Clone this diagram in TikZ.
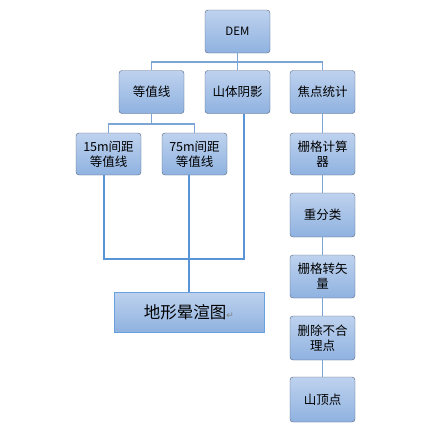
\documentclass[tikz,border=0pt]{standalone}
\usepackage{fontspec}
\setmainfont{Noto Sans CJK SC}
\newfontfamily\symfont{DejaVu Sans}
\usepackage{tikz}
\usetikzlibrary{positioning, calc}
\definecolor{boxtop}{RGB}{190, 210, 238}
\definecolor{boxbot}{RGB}{143, 178, 224}
\definecolor{boxedge}{RGB}{82, 98, 125}
\definecolor{thinblue}{RGB}{125, 165, 212}
\definecolor{thickblue}{RGB}{88, 148, 214}
\definecolor{hilledge}{RGB}{105, 160, 222}

\tikzset{
  stepbox/.style={draw=boxedge, rounded corners=3pt, top color=boxtop, bottom color=boxbot,
    minimum width=65pt, minimum height=43pt, align=center, inner sep=1pt, font=\fontsize{12.5}{15}\selectfont},
  thinline/.style={draw=thinblue, line width=1.2pt},
  thickline/.style={draw=thickblue, line width=2.4pt}
}

\begin{document}
\begin{tikzpicture}[x=1pt, y=-1pt]
  \useasboundingbox (0,0) rectangle (426,429);
  % top level
  \node[stepbox, font=\fontsize{11.5}{13}\selectfont] (dem) at (237.5,31.5) {DEM};
  \node[stepbox] (contour) at (151.5,92) {等值线};
  \node[stepbox] (shade) at (237.5,92) {山体阴影};
  \node[stepbox] (focal) at (322.5,92) {焦点统计};
  % contour intervals
  \node[stepbox, minimum height=42pt] (c15) at (108.5,154) {15m间距\\等值线};
  \node[stepbox, minimum height=42pt] (c75) at (194.5,154) {75m间距\\等值线};
  % peak extraction chain
  \node[stepbox, minimum height=42pt] (calc) at (322.5,154) {栅格计算\\器};
  \node[stepbox, minimum height=44pt] (reclass) at (322.5,215) {重分类};
  \node[stepbox] (r2v) at (322.5,276.5) {栅格转矢\\量};
  \node[stepbox, minimum height=44pt] (del) at (322.5,338) {删除不合\\理点};
  \node[stepbox, minimum height=45pt] (peak) at (322.5,399.5) {山顶点};
  % result
  \node[draw=hilledge, line width=0.8pt, top color=boxtop, bottom color=boxbot,
    minimum width=150pt, minimum height=40pt, font=\fontsize{16.5}{18}\selectfont] (hill) at (189,312)
    {地形晕渲图{\symfont\color{gray}\fontsize{9}{10}\selectfont↵}};

  \coordinate (bus1) at (237.5,62);
  \coordinate (bus2) at (151.5,124);
  \coordinate (join) at (189,259);

  \draw[thinline] (dem.south) -- (bus1);
  \draw[thinline] (contour.north) |- (bus1) -| (focal.north);
  \draw[thinline] (bus1) -- (shade.north);
  \draw[thinline] (contour.south) -- (bus2);
  \draw[thinline] (c15.north) |- (bus2) -| (c75.north);
  \draw[thinline] (focal) -- (calc) -- (reclass) -- (r2v) -- (del) -- (peak);

  \draw[thickline] ([xshift=-4.5pt]c15.south) |- (join) -| ([xshift=6.5pt]shade.south);
  \draw[thickline] ([xshift=-5.5pt]c75.south) -- (hill.north);
\end{tikzpicture}
\end{document}
